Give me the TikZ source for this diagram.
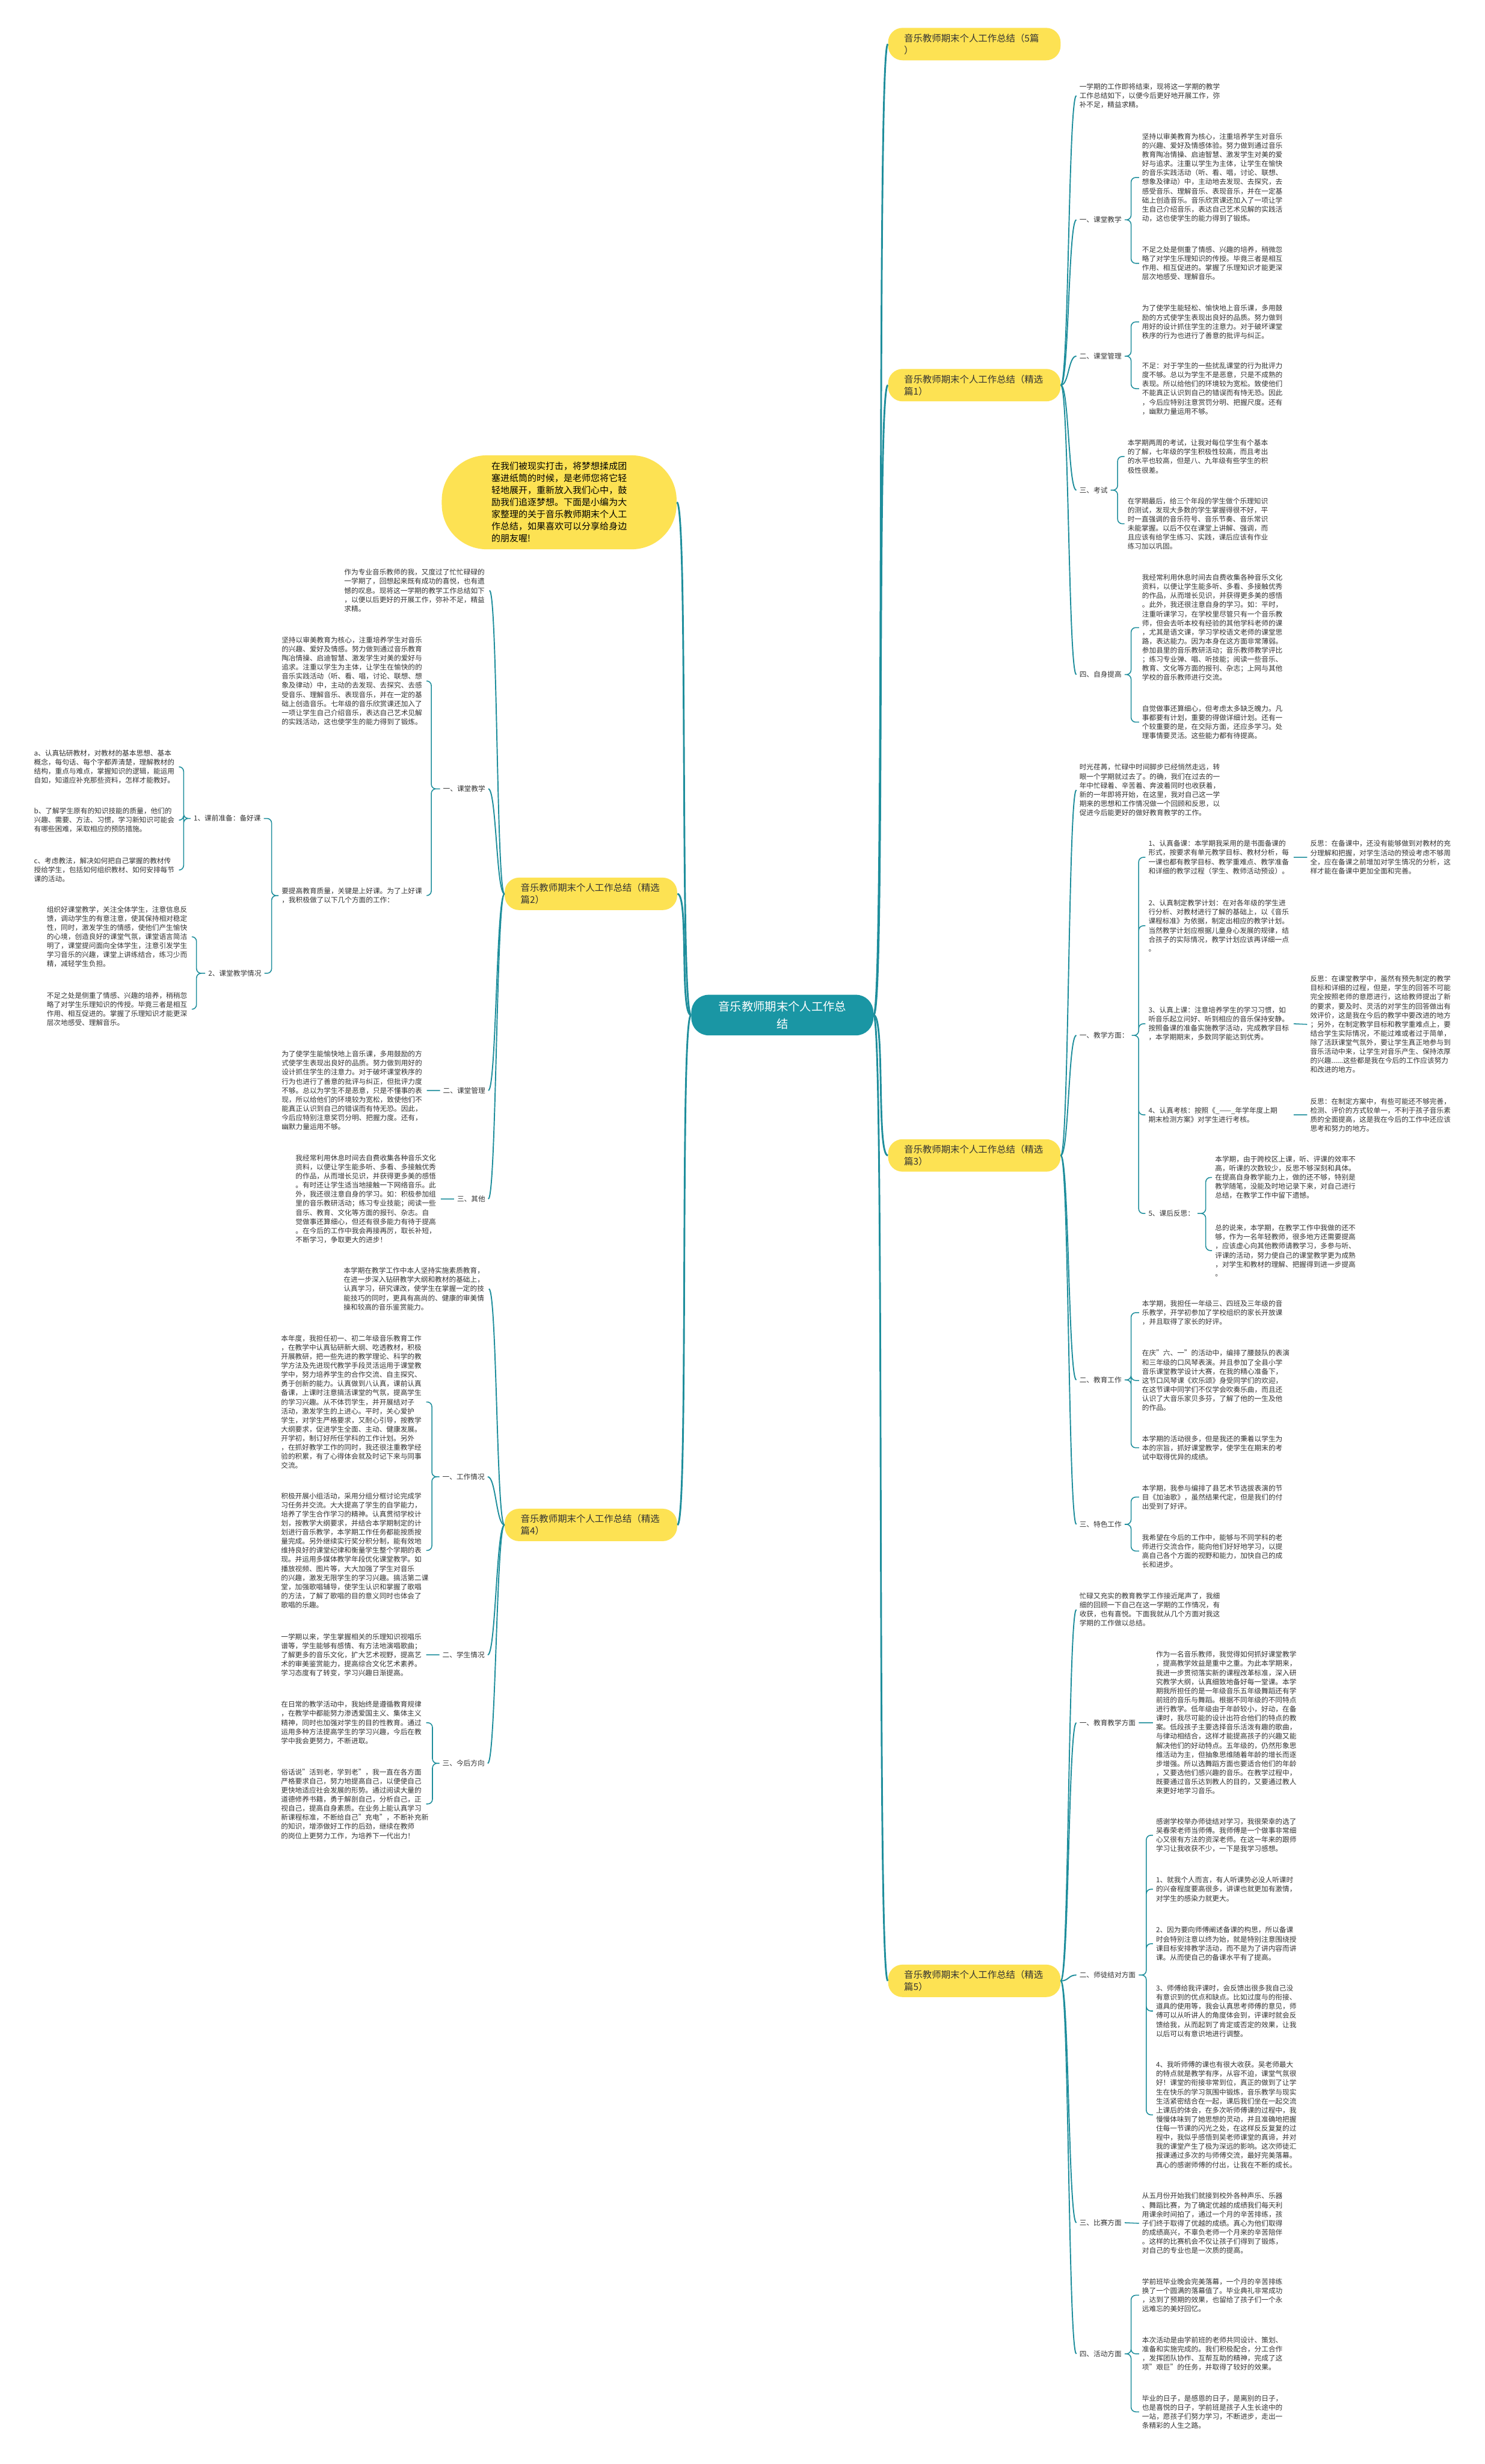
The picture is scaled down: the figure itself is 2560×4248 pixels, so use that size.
\documentclass[tikz,border=0pt]{standalone}
\usepackage{fontspec}
\setmainfont{Noto Sans CJK SC}
\definecolor{LinkTeal}{HTML}{1E8E9C}
\definecolor{RootTeal}{HTML}{1A96A4}
\definecolor{SecYellow}{HTML}{FDE253}
\definecolor{TextDark}{HTML}{333333}
\tikzset{para/.style={font=\fontsize{6.89}{8.93}\selectfont,text=TextDark,align=left,
 text width=4.9cm,inner xsep=0.1cm,inner ysep=0pt},tag/.style={font=\fontsize{6.89}{8.93}\selectfont,
 text=TextDark,inner xsep=0.1cm,inner ysep=1pt},secbox/.style={fill=SecYellow,rounded corners=0.5cm,
 font=\fontsize{9.1}{11.8}\selectfont,text=TextDark,align=left,text width=4.85cm,inner xsep=0.55cm,
 inner ysep=0.2cm},rootbox/.style={fill=RootTeal,rounded corners=0.6cm,font=\fontsize{11.4}{17}\selectfont,
 text=white,align=center,minimum width=6.28cm,minimum height=1.4cm},introbox/.style={fill=SecYellow,
 rounded corners=1.55cm,font=\fontsize{8.86}{11.8}\selectfont,text=black,align=left,minimum width=8.1cm,
 minimum height=3.24cm},trunk/.style={draw=LinkTeal,line width=0.06cm},twig/.style={draw=LinkTeal,
 line width=0.04cm},brace/.style={draw=LinkTeal,line width=0.032cm,rounded corners=0.16cm}}
\begin{document}
\begin{tikzpicture}[x=0.02cm,y=-0.02cm]
\fill[white] (0,0) rectangle (2560,4248);
\useasboundingbox (0,0) rectangle (2560,4248);
\node[rootbox] (root) at (1349,1750) {音乐教师期末个人工作总\\结};
\node[secbox,anchor=west] (top) at (1531,76) {音乐教师期末个人工作总结（5篇\\）};
\node[secbox,anchor=west] (sec1) at (1531,664) {音乐教师期末个人工作总结（精选\\篇1）};
\node[secbox,anchor=east] (sec2) at (1168,1541) {音乐教师期末个人工作总结（精选\\篇2）};
\node[secbox,anchor=west] (sec3) at (1531,1992) {音乐教师期末个人工作总结（精选\\篇3）};
\node[secbox,anchor=east] (sec4) at (1168,2629) {音乐教师期末个人工作总结（精选\\篇4）};
\node[secbox,anchor=west] (sec5) at (1531,3415) {音乐教师期末个人工作总结（精选\\篇5）};
\node[introbox,anchor=east] (intro) at (1167,866) {在我们被现实打击，将梦想揉成团\\塞进纸筒的时候，是老师您将它轻\\轻地展开，重新放入我们心中，鼓\\励我们追逐梦想。下面是小编为大\\家整理的关于音乐教师期末个人工\\作总结，如果喜欢可以分享给身边\\的朋友喔!};
\path (root.east) edge[trunk,out=0,in=180,distance=0.4cm] (top.west)
 (root.east) edge[trunk,out=0,in=180,distance=0.4cm] (sec1.west)
 (root.east) edge[trunk,out=0,in=180,distance=0.4cm] (sec3.west)
 (root.east) edge[trunk,out=0,in=180,distance=0.4cm] (sec5.west)
 (root.west) edge[trunk,out=180,in=0,distance=0.4cm] (intro.east)
 (root.west) edge[trunk,out=180,in=0,distance=0.4cm] (sec2.east)
 (root.west) edge[trunk,out=180,in=0,distance=0.4cm] (sec4.east);

\node[para,anchor=west] (s1p) at (1856,165) {一学期的工作即将结束，现将这一学期的教学\\工作总结如下，以便今后更好地开展工作，弥\\补不足，精益求精。};
\node[tag,anchor=west] (s1l1) at (1856,379) {一、课堂教学};
\node[para,anchor=west] (s1t1) at (1964,306) {坚持以审美教育为核心，注重培养学生对音乐\\的兴趣、爱好及情感体验。努力做到通过音乐\\教育陶冶情操、启迪智慧、激发学生对美的爱\\好与追求。注重以学生为主体，让学生在愉快\\的音乐实践活动（听、看、唱，讨论、联想、\\想象及律动）中，主动地去发现、去探究，去\\感受音乐、理解音乐、表现音乐，并在一定基\\础上创造音乐。音乐欣赏课还加入了一项让学\\生自己介绍音乐，表达自己艺术见解的实践活\\动，这也使学生的能力得到了锻炼。};
\node[para,anchor=west] (s1t2) at (1964,454) {不足之处是侧重了情感、兴趣的培养，稍微忽\\略了对学生乐理知识的传授。毕竟三者是相互\\作用、相互促进的。掌握了乐理知识才能更深\\层次地感受、理解音乐。};
\node[tag,anchor=west] (s1l2) at (1856,614) {二、课堂管理};
\node[para,anchor=west] (s1t3) at (1964,555) {为了使学生能轻松、愉快地上音乐课，多用鼓\\励的方式使学生表现出良好的品质。努力做到\\用好的设计抓住学生的注意力。对于破坏课堂\\秩序的行为也进行了善意的批评与纠正。};
\node[para,anchor=west] (s1t4) at (1964,670) {不足：对于学生的一些扰乱课堂的行为批评力\\度不够。总以为学生不是恶意，只是不成熟的\\表现。所以给他们的环境较为宽松。致使他们\\不能真正认识到自己的错误而有恃无恐。因此\\，今后应特别注意赏罚分明、把握尺度。还有\\，幽默力量运用不够。};
\node[tag,anchor=west] (s1l3) at (1856,845) {三、考试};
\node[para,anchor=west] (s1t5) at (1939,787) {本学期两周的考试，让我对每位学生有个基本\\的了解，七年级的学生积极性较高，而且考出\\的水平也较高，但是八、九年级有些学生的积\\极性很差。};
\node[para,anchor=west] (s1t6) at (1939,903) {在学期最后，给三个年段的学生做个乐理知识\\的测试，发现大多数的学生掌握得很不好，平\\时一直强调的音乐符号、音乐节奏、音乐常识\\未能掌握。以后不仅在课堂上讲解、强调，而\\且应该有给学生练习、实践，课后应该有作业\\练习加以巩固。};
\node[tag,anchor=west] (s1l4) at (1856,1163) {四、自身提高};
\node[para,anchor=west] (s1t7) at (1964,1082) {我经常利用休息时间去自费收集各种音乐文化\\资料，以便让学生能多听、多看、多接触优秀\\的作品，从而增长见识，并获得更多美的感悟\\。此外，我还很注意自身的学习。如：平时，\\注重听课学习，在学校里尽管只有一个音乐教\\师，但会去听本校有经验的其他学科老师的课\\，尤其是语文课，学习学校语文老师的课堂思\\路，表达能力。因为本身在这方面非常薄弱。\\参加县里的音乐教研活动；音乐教师教学评比\\；练习专业弹、唱、听技能；阅读一些音乐、\\教育、文化等方面的报刊、杂志；上网与其他\\学校的音乐教师进行交流。};
\node[para,anchor=west] (s1t8) at (1964,1245) {自觉做事还算细心，但考虑太多缺乏魄力。凡\\事都要有计划，重要的得做详细计划。还有一\\个较重要的是，在交际方面，还应多学习。处\\理事情要灵活。这些能力都有待提高。};
\path (sec1.east) edge[twig,out=0,in=180,distance=0.28cm] (s1p.west)
 (sec1.east) edge[twig,out=0,in=180,distance=0.28cm] (s1l1.west)
 (sec1.east) edge[twig,out=0,in=180,distance=0.28cm] (s1l2.west)
 (sec1.east) edge[twig,out=0,in=180,distance=0.28cm] (s1l3.west)
 (sec1.east) edge[twig,out=0,in=180,distance=0.28cm] (s1l4.west);
\draw[brace] (s1l1.east) -- ++(11,0) |- (s1t1.west) (s1l1.east) -- ++(11,0) |- (s1t2.west)
 (s1l2.east) -- ++(11,0) |- (s1t3.west) (s1l2.east) -- ++(11,0) |- (s1t4.west)
 (s1l3.east) -- ++(12,0) |- (s1t5.west) (s1l3.east) -- ++(12,0) |- (s1t6.west)
 (s1l4.east) -- ++(11,0) |- (s1t7.west) (s1l4.east) -- ++(11,0) |- (s1t8.west);

\node[para,anchor=west] (s3p) at (1856,1362) {时光荏苒，忙碌中时间脚步已经悄然走远，转\\眼一个学期就过去了。的确，我们在过去的一\\年中忙碌着、辛苦着、奔波着同时也收获着，\\新的一年即将开始，在这里，我对自己这一学\\期来的思想和工作情况做一个回顾和反思，以\\促进今后能更好的做好教育教学的工作。};
\node[tag,anchor=west] (s3l1) at (1856,1785) {一、教学方面：};
\node[para,anchor=west] (s3d1) at (1975,1478) {1、认真备课：本学期我采用的是书面备课的\\形式，按要求有单元教学目标、教材分析，每\\一课也都有教学目标、教学重难点、教学准备\\和详细的教学过程（学生、教师活动预设）。};
\node[para,anchor=west] (s3r1) at (2254,1478) {反思：在备课中，还没有能够做到对教材的充\\分理解和把握，对学生活动的预设考虑不够周\\全，应在备课之前增加对学生情况的分析，这\\样才能在备课中更加全面和完善。};
\node[para,anchor=west] (s3d2) at (1975,1596) {2、认真制定教学计划：在对各年级的学生进\\行分析、对教材进行了解的基础上，以《音乐\\课程标准》为依据，制定出相应的教学计划。\\当然教学计划应根据儿童身心发展的规律，结\\合孩子的实际情况，教学计划应该再详细一点\\。};
\node[para,anchor=west] (s3d3) at (1975,1765) {3、认真上课：注意培养学生的学习习惯，如\\听音乐起立问好、听到相应的音乐保持安静。\\按照备课的准备实施教学活动，完成教学目标\\，本学期期末，多数同学能达到优秀。};
\node[para,anchor=west] (s3r3) at (2254,1766) {反思：在课堂教学中，虽然有预先制定的教学\\目标和详细的过程，但是，学生的回答不可能\\完全按照老师的意愿进行，这给教师提出了新\\的要求，要及时、灵活的对学生的回答做出有\\效评价，这是我在今后的教学中要改进的地方\\；另外，在制定教学目标和教学重难点上，要\\结合学生实际情况，不能过难或者过于简单，\\除了活跃课堂气氛外，要让学生真正地参与到\\音乐活动中来，让学生对音乐产生、保持浓厚\\的兴趣......这些都是我在今后的工作应该努力\\和改进的地方。};
\node[para,anchor=west] (s3d4) at (1975,1922) {4、认真考核：按照《\_——\_年学年度上期\\期末检测方案》对学生进行考核。};
\node[para,anchor=west] (s3r4) at (2254,1922) {反思：在制定方案中，有些可能还不够完善，\\检测、评价的方式较单一，不利于孩子音乐素\\质的全面提高，这是我在今后的工作中还应该\\思考和努力的地方。};
\node[tag,anchor=west] (s3d5) at (1975,2092) {5、课后反思：};
\node[para,anchor=west] (s3e1) at (2090,2030) {本学期，由于跨校区上课，听、评课的效率不\\高，听课的次数较少，反思不够深刻和具体。\\在提高自身教学能力上，做的还不够，特别是\\教学随笔，没能及时地记录下来，对自己进行\\总结，在教学工作中留下遗憾。};
\node[para,anchor=west] (s3e2) at (2090,2156) {总的说来，本学期，在教学工作中我做的还不\\够，作为一名年轻教师，很多地方还需要提高\\，应该虚心向其他教师请教学习，多参与听、\\评课的活动，努力使自己的课堂教学更为成熟\\，对学生和教材的理解、把握得到进一步提高\\。};
\node[tag,anchor=west] (s3l2) at (1856,2379) {二、教育工作};
\node[para,anchor=west] (s3f1) at (1964,2263) {本学期，我担任一年级三、四班及三年级的音\\乐教学，开学初参加了学校组织的家长开放课\\，并且取得了家长的好评。};
\node[para,anchor=west] (s3f2) at (1964,2380) {在庆"六、一"的活动中，编排了腰鼓队的表演\\和三年级的口风琴表演。并且参加了全县小学\\音乐课堂教学设计大赛，在我的精心准备下，\\这节口风琴课《欢乐颂》身受同学们的欢迎，\\在这节课中同学们不仅学会吹奏乐曲，而且还\\认识了大音乐家贝多芬，了解了他的一生及他\\的作品。};
\node[para,anchor=west] (s3f3) at (1964,2496) {本学期的活动很多，但是我还的秉着以学生为\\本的宗旨，抓好课堂教学，使学生在期末的考\\试中取得优异的成绩。};
\node[tag,anchor=west] (s3l3) at (1856,2628) {三、特色工作};
\node[para,anchor=west] (s3g1) at (1964,2581) {本学期，我参与编排了县艺术节选拔表演的节\\目《加油歌》，虽然结果代定，但是我们的付\\出受到了好评。};
\node[para,anchor=west] (s3g2) at (1964,2674) {我希望在今后的工作中，能够与不同学科的老\\师进行交流合作，能向他们好好地学习，以提\\高自己各个方面的视野和能力，加快自己的成\\长和进步。};
\path (sec3.east) edge[twig,out=0,in=180,distance=0.28cm] (s3p.west)
 (sec3.east) edge[twig,out=0,in=180,distance=0.28cm] (s3l1.west)
 (sec3.east) edge[twig,out=0,in=180,distance=0.28cm] (s3l2.west)
 (sec3.east) edge[twig,out=0,in=180,distance=0.28cm] (s3l3.west);
\draw[brace] (s3l1.east) -- ++(12,0) |- (s3d1.west) (s3l1.east) -- ++(12,0) |- (s3d2.west)
 (s3l1.east) -- ++(12,0) |- (s3d3.west) (s3l1.east) -- ++(12,0) |- (s3d4.west)
 (s3l1.east) -- ++(12,0) |- (s3d5.west)
 (s3d5.east) -- ++(14,0) |- (s3e1.west) (s3d5.east) -- ++(14,0) |- (s3e2.west)
 (s3l2.east) -- ++(11,0) |- (s3f1.west) (s3l2.east) -- ++(11,0) |- (s3f2.west)
 (s3l2.east) -- ++(11,0) |- (s3f3.west)
 (s3l3.east) -- ++(11,0) |- (s3g1.west) (s3l3.east) -- ++(11,0) |- (s3g2.west);
\draw[brace] (s3d1.east) -- (s3r1.west) (s3d3.east) -- (s3r3.west) (s3d4.east) -- (s3r4.west);

\node[para,anchor=west] (s5p) at (1856,2775) {忙碌又充实的教育教学工作接近尾声了，我细\\细的回顾一下自己在这一学期的工作情况，有\\收获，也有喜悦。下面我就从几个方面对我这\\学期的工作做以总结。};
\node[tag,anchor=west] (s5l1) at (1856,2970) {一、教育教学方面};
\node[para,anchor=west] (s5h1) at (1988,2970) {作为一名音乐教师，我觉得如何抓好课堂教学\\，提高教学效益是重中之重。为此本学期来，\\我进一步贯彻落实新的课程改革标准，深入研\\究教学大纲，认真细致地备好每一堂课。本学\\期我所担任的是一年级音乐五年级舞蹈还有学\\前班的音乐与舞蹈。根据不同年级的不同特点\\进行教学。低年级由于年龄较小，好动，在备\\课时，我尽可能的设计出符合他们的特点的教\\案。低段孩子主要选择音乐活泼有趣的歌曲，\\与律动相结合，这样才能提高孩子的兴趣又能\\解决他们的好动特点。五年级的，仍然形象思\\维活动为主，但抽象思维随着年龄的增长而逐\\步增强。所以选舞蹈方面也要适合他们的年龄\\，又要选他们感兴趣的音乐。在教学过程中，\\既要通过音乐达到教人的目的，又要通过教人\\来更好地学习音乐。};
\node[tag,anchor=west] (s5l2) at (1856,3405) {二、师徒结对方面};
\node[para,anchor=west] (s5i1) at (1988,3164) {感谢学校举办师徒结对学习，我很荣幸的选了\\吴春荣老师当师傅。我师傅是一个做事非常细\\心又很有方法的资深老师。在这一年来的跟师\\学习让我收获不少，一下是我学习感想。};
\node[para,anchor=west] (s5i2) at (1988,3257) {1、就我个人而言，有人听课势必没人听课时\\的兴奋程度要高很多，讲课也就更加有激情，\\对学生的感染力就更大。};
\node[para,anchor=west] (s5i3) at (1988,3351) {2、因为要向师傅阐述备课的构思，所以备课\\时会特别注意以终为始，就是特别注意围绕授\\课目标安排教学活动，而不是为了讲内容而讲\\课。从而使自己的备课水平有了提高。};
\node[para,anchor=west] (s5i4) at (1988,3467) {3、师傅给我评课时，会反馈出很多我自己没\\有意识到的优点和缺点。比如过度与的衔接、\\道具的使用等，我会认真思考师傅的意见，师\\傅可以从听讲人的角度体会到，评课时就会反\\馈给我，从而起到了肯定或否定的效果，让我\\以后可以有意识地进行调整。};
\node[para,anchor=west] (s5i5) at (1988,3646) {4、我听师傅的课也有很大收获。吴老师最大\\的特点就是教学有序，从容不迫，课堂气氛很\\好！课堂的衔接非常到位，真正的做到了让学\\生在快乐的学习氛围中锻炼，音乐教学与现实\\生活紧密结合在一起，课后我们坐在一起交流\\上课后的体会，在多次听师傅课的过程中，我\\慢慢体味到了她思想的灵动，并且准确地把握\\住每一节课的闪光之处，在这样反反复复的过\\程中，我似乎感悟到吴老师课堂的真谛，并对\\我的课堂产生了极为深远的影响。这次师徒汇\\报课通过多次的与师傅交流，最好完美落幕。\\真心的感谢师傅的付出，让我在不断的成长。};
\node[tag,anchor=west] (s5l3) at (1856,3832) {三、比赛方面};
\node[para,anchor=west] (s5j1) at (1964,3833) {从五月份开始我们就接到校外各种声乐、乐器\\、舞蹈比赛，为了确定优越的成绩我们每天利\\用课余时间拍了，通过一个月的辛苦排练，孩\\子们终于取得了优越的成绩。真心为他们取得\\的成绩高兴，不辜负老师一个月来的辛苦陪伴\\。这样的比赛机会不仅让孩子们得到了锻炼，\\对自己的专业也是一次质的提高。};
\node[tag,anchor=west] (s5l4) at (1856,4058) {四、活动方面};
\node[para,anchor=west] (s5k1) at (1964,3957) {学前班毕业晚会完美落幕，一个月的辛苦排练\\换了一个圆满的落幕值了。毕业典礼非常成功\\，达到了预期的效果，也留给了孩子们一个永\\远难忘的美好回忆。};
\node[para,anchor=west] (s5k2) at (1964,4058) {本次活动是由学前班的老师共同设计、策划、\\准备和实施完成的。我们积极配合，分工合作\\，发挥团队协作、互帮互助的精神，完成了这\\项"艰巨"的任务，并取得了较好的效果。};
\node[para,anchor=west] (s5k3) at (1964,4158) {毕业的日子，是感恩的日子，是离别的日子，\\也是喜悦的日子，学前班是孩子人生长途中的\\一站，愿孩子们努力学习，不断进步，走出一\\条精彩的人生之路。};
\path (sec5.east) edge[twig,out=0,in=180,distance=0.28cm] (s5p.west)
 (sec5.east) edge[twig,out=0,in=180,distance=0.28cm] (s5l1.west)
 (sec5.east) edge[twig,out=0,in=180,distance=0.28cm] (s5l2.west)
 (sec5.east) edge[twig,out=0,in=180,distance=0.28cm] (s5l3.west)
 (sec5.east) edge[twig,out=0,in=180,distance=0.28cm] (s5l4.west);
\draw[brace] (s5l1.east) -- (s5h1.west) (s5l3.east) -- (s5j1.west)
 (s5l2.east) -- ++(13,0) |- (s5i1.west) (s5l2.east) -- ++(13,0) |- (s5i2.west)
 (s5l2.east) -- ++(13,0) |- (s5i3.west) (s5l2.east) -- ++(13,0) |- (s5i4.west)
 (s5l2.east) -- ++(13,0) |- (s5i5.west)
 (s5l4.east) -- ++(11,0) |- (s5k1.west) (s5l4.east) -- ++(11,0) |- (s5k2.west)
 (s5l4.east) -- ++(11,0) |- (s5k3.west);

\node[para,anchor=east] (s2p) at (844,1018) {作为专业音乐教师的我，又度过了忙忙碌碌的\\一学期了，回想起来既有成功的喜悦，也有遗\\憾的叹息。现将这一学期的教学工作总结如下\\，以便以后更好的开展工作，弥补不足，精益\\求精。};
\node[tag,anchor=east] (s2l1) at (842,1360) {一、课堂教学};
\node[para,anchor=east] (s2t1) at (736,1174) {坚持以审美教育为核心，注重培养学生对音乐\\的兴趣、爱好及情感。努力做到通过音乐教育\\陶冶情操、启迪智慧、激发学生对美的爱好与\\追求。注重以学生为主体，让学生在愉快的的\\音乐实践活动（听、看、唱，讨论、联想、想\\象及律动）中，主动的去发现、去探究、去感\\受音乐、理解音乐、表现音乐，并在一定的基\\础上创造音乐。七年级的音乐欣赏课还加入了\\一项让学生自己介绍音乐，表达自己艺术见解\\的实践活动，这也使学生的能力得到了锻炼。};
\node[para,anchor=east] (s2t2) at (736,1544) {要提高教育质量，关键是上好课。为了上好课\\，我积极做了以下几个方面的工作：};
\node[tag,anchor=east] (s2l3) at (455,1411) {1、课前准备：备好课};
\node[para,anchor=east] (s2a) at (309,1322) {a、认真钻研教材，对教材的基本思想、基本\\概念，每句话、每个字都弄清楚，理解教材的\\结构，重点与难点，掌握知识的逻辑，能运用\\自如，知道应补充那些资料，怎样才能教好。};
\node[para,anchor=east] (s2b) at (309,1414) {b、了解学生原有的知识技能的质量，他们的\\兴趣、需要、方法、习惯，学习新知识可能会\\有哪些困难，采取相应的预防措施。};
\node[para,anchor=east] (s2c) at (309,1500) {c、考虑教法，解决如何把自己掌握的教材传\\授给学生，包括如何组织教材、如何安排每节\\课的活动。};
\node[tag,anchor=east] (s2l4) at (456,1678) {2、课堂教学情况};
\node[para,anchor=east] (s2d) at (331,1615) {组织好课堂教学，关注全体学生，注意信息反\\馈，调动学生的有意注意，使其保持相对稳定\\性，同时，激发学生的情感，使他们产生愉快\\的心境，创造良好的课堂气氛，课堂语言简洁\\明了，课堂提问面向全体学生，注意引发学生\\学习音乐的兴趣，课堂上讲练结合，练习少而\\精，减轻学生负担。};
\node[para,anchor=east] (s2e) at (331,1740) {不足之处是侧重了情感、兴趣的培养，稍稍忽\\略了对学生乐理知识的传授。毕竟三者是相互\\作用、相互促进的。掌握了乐理知识才能更深\\层次地感受、理解音乐。};
\node[tag,anchor=east] (s2l2) at (842,1880) {二、课堂管理};
\node[para,anchor=east] (s2t3) at (736,1880) {为了使学生能愉快地上音乐课，多用鼓励的方\\式使学生表现出良好的品质。努力做到用好的\\设计抓住学生的注意力。对于破坏课堂秩序的\\行为也进行了善意的批评与纠正，但批评力度\\不够。总以为学生不是恶意，只是不懂事的表\\现，所以给他们的环境较为宽松，致使他们不\\能真正认识到自己的错误而有恃无恐。因此，\\今后应特别注意奖罚分明、把握力度。还有，\\幽默力量运用不够。};
\node[tag,anchor=east] (s2l5) at (842,2067) {三、其他};
\node[para,anchor=east] (s2t4) at (760,2067) {我经常利用休息时间去自费收集各种音乐文化\\资料，以便让学生能多听、多看、多接触优秀\\的作品，从而增长见识，并获得更多美的感悟\\。有时还让学生适当地接触一下网络音乐。此\\外，我还很注意自身的学习。如：积极参加组\\里的音乐教研活动；练习专业技能；阅读一些\\音乐、教育、文化等方面的报刊、杂志。自\\觉做事还算细心，但还有很多能力有待于提高\\。在今后的工作中我会再接再厉，取长补短，\\不断学习，争取更大的进步！};
\path (sec2.west) edge[twig,out=180,in=0,distance=0.28cm] (s2p.east)
 (sec2.west) edge[twig,out=180,in=0,distance=0.28cm] (s2l1.east)
 (sec2.west) edge[twig,out=180,in=0,distance=0.28cm] (s2l2.east)
 (sec2.west) edge[twig,out=180,in=0,distance=0.28cm] (s2l5.east);
\draw[brace] (s2l1.west) -- ++(-15,0) |- (s2t1.east) (s2l1.west) -- ++(-15,0) |- (s2t2.east)
 (s2t2.west) -- ++(-12,0) |- (s2l3.east) (s2t2.west) -- ++(-12,0) |- (s2l4.east)
 (s2l3.west) -- ++(-12,0) |- (s2a.east) (s2l3.west) -- ++(-12,0) |- (s2b.east)
 (s2l3.west) -- ++(-12,0) |- (s2c.east)
 (s2l4.west) -- ++(-15,0) |- (s2d.east) (s2l4.west) -- ++(-15,0) |- (s2e.east)
 (s2l2.west) -- (s2t3.east) (s2l5.west) -- (s2t4.east);

\node[para,anchor=east] (s4p) at (843,2222) {本学期在教学工作中本人坚持实施素质教育，\\在进一步深入钻研教学大纲和教材的基础上，\\认真学习，研究课改，使学生在掌握一定的技\\能技巧的同时，更具有高尚的、健康的审美情\\操和较高的音乐鉴赏能力。};
\node[tag,anchor=east] (s4l1) at (841,2546) {一、工作情况};
\node[para,anchor=east] (s4t1) at (735,2417) {本年度，我担任初一、初二年级音乐教育工作\\，在教学中认真钻研新大纲、吃透教材，积极\\开展教研，把一些先进的教学理论、科学的教\\学方法及先进现代教学手段灵活运用于课堂教\\学中，努力培养学生的合作交流、自主探究、\\勇于创新的能力。认真做到八认真，课前认真\\备课，上课时注意搞活课堂的气氛，提高学生\\的学习兴趣。从不体罚学生，并开展结对子\\活动，激发学生的上进心。平时，关心爱护\\学生，对学生严格要求，又耐心引导，按教学\\大纲要求，促进学生全面、主动、健康发展。\\开学初，制订好所任学科的工作计划。另外\\，在抓好教学工作的同时，我还很注重教学经\\验的积累，有了心得体会就及时记下来与同事\\交流。};
\node[para,anchor=east] (s4t2) at (735,2673) {积极开展小组活动，采用分组分框讨论完成学\\习任务并交流。大大提高了学生的自学能力，\\培养了学生合作学习的精神。认真贯彻学校计\\划，按教学大纲要求，并结合本学期制定的计\\划进行音乐教学，本学期工作任务都能按质按\\量完成。另外继续实行奖分积分制，能有效地\\维持良好的课堂纪律和衡量学生整个学期的表\\现。并运用多媒体教学年段优化课堂教学。如\\播放视频、图片等，大大加强了学生对音乐\\的兴趣，激发无限学生的学习兴趣。搞活第二课\\堂，加强歌唱辅导，使学生认识和掌握了歌唱\\的方法，了解了歌唱的目的意义同时也体会了\\歌唱的乐趣。};
\node[tag,anchor=east] (s4l2) at (841,2853) {二、学生情况};
\node[para,anchor=east] (s4t3) at (735,2853) {一学期以来，学生掌握相关的乐理知识视唱乐\\谱等，学生能够有感情、有方法地演唱歌曲；\\了解更多的音乐文化，扩大艺术视野，提高艺\\术的审美鉴赏能力，提高综合文化艺术素养。\\学习态度有了转变，学习兴趣日渐提高。};
\node[tag,anchor=east] (s4l3) at (841,3040) {三、今后方向};
\node[para,anchor=east] (s4t4) at (735,2970) {在日常的教学活动中，我始终是遵循教育规律\\，在教学中都能努力渗透爱国主义、集体主义\\精神，同时也加强对学生的目的性教育。通过\\运用多种方法提高学生的学习兴趣，今后在教\\学中我会更努力，不断进取。};
\node[para,anchor=east] (s4t5) at (735,3110) {俗话说"活到老，学到老"，我一直在各方面\\严格要求自己，努力地提高自己，以便使自己\\更快地适应社会发展的形势。通过阅读大量的\\道德修养书籍，勇于解剖自己，分析自己，正\\视自己，提高自身素质。在业务上能认真学习\\新课程标准，不断给自己"充电"，不断补充新\\的知识，增添做好工作的后劲，继续在教师\\的岗位上更努力工作，为培养下一代出力！};
\path (sec4.west) edge[twig,out=180,in=0,distance=0.28cm] (s4p.east)
 (sec4.west) edge[twig,out=180,in=0,distance=0.28cm] (s4l1.east)
 (sec4.west) edge[twig,out=180,in=0,distance=0.28cm] (s4l2.east)
 (sec4.west) edge[twig,out=180,in=0,distance=0.28cm] (s4l3.east);
\draw[brace] (s4l1.west) -- ++(-13,0) |- (s4t1.east) (s4l1.west) -- ++(-13,0) |- (s4t2.east)
 (s4l3.west) -- ++(-12,0) |- (s4t4.east) (s4l3.west) -- ++(-12,0) |- (s4t5.east)
 (s4l2.west) -- (s4t3.east);
\end{tikzpicture}
\end{document}
